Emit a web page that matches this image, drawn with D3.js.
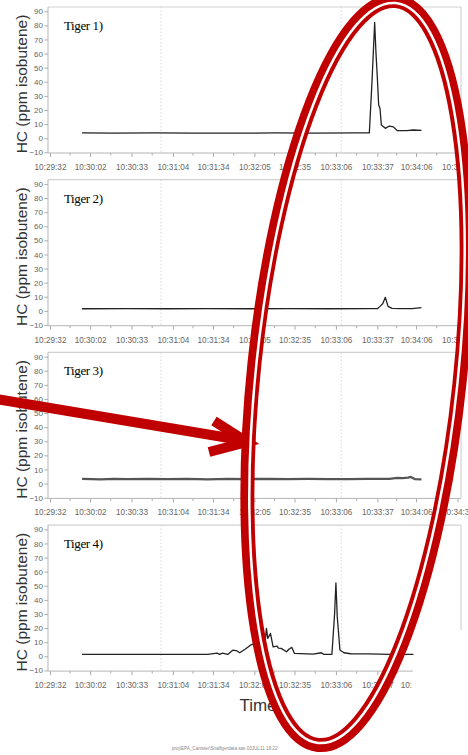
<!DOCTYPE html>
<html><head><meta charset="utf-8">
<script src="https://cdn.jsdelivr.net/npm/d3@7"></script>
<style>body{margin:0;background:#fff;overflow:hidden}svg{display:block}</style>
</head><body>
<svg id="c" width="468" height="755"></svg>
<script>
// ---------- data ----------
const panelNames = ["Tiger 1)", "Tiger 2)", "Tiger 3)", "Tiger 4)"];
const tickLabels = ["10:29:32","10:30:02","10:30:33","10:31:04","10:31:34","10:32:05","10:32:35","10:33:06","10:33:37","10:34:06","10:34:37"];
const yTicks = [-10, 0, 10, 20, 30, 40, 50, 60, 70, 80, 90];
const gridTimes = ["10:30:55", "10:33:10"];
const axisTitleY = "HC (ppm isobutene)";
const axisTitleX = "Time";
const footnote = "proj\\EPA_Canister\\Snaffgerdata.sas 03JUL11 19:22";

const tiger1Times  = ["10:29:56","10:30:20","10:30:50","10:31:20","10:31:50","10:32:20","10:32:50","10:33:20","10:33:31","10:33:33","10:33:35","10:33:36","10:33:37","10:33:38","10:33:39","10:33:40","10:33:43","10:33:46","10:33:49","10:33:52","10:33:59","10:34:04","10:34:10"];
const tiger1Values = [3.7,3.6,3.7,3.6,3.6,3.7,3.6,3.7,3.7,40,82,60,43,23.5,21,9.3,7,8.6,8,5.3,5.3,5.8,5.6];

const tiger2Times  = ["10:29:56","10:30:30","10:31:00","10:31:30","10:32:00","10:32:30","10:33:00","10:33:30","10:33:37","10:33:39","10:33:41","10:33:43","10:33:45","10:33:48","10:33:55","10:34:03","10:34:10"];
const tiger2Values = [1.5,1.6,1.5,1.6,1.5,1.6,1.5,1.6,1.6,3.2,5,9.6,3.2,1.8,1.6,1.6,2.3];

const tiger3Times  = ["10:29:56","10:30:10","10:30:20","10:30:30","10:30:45","10:31:00","10:31:15","10:31:30","10:31:45","10:32:00","10:32:15","10:32:30","10:32:45","10:33:00","10:33:15","10:33:30","10:33:46","10:33:52","10:33:56","10:34:00","10:34:02","10:34:05","10:34:10"];
const tiger3Values = [3.3,3.0,3.4,3.1,3.4,3.2,3.3,3.0,3.3,3.2,3.4,3.1,3.3,3.2,3.1,3.3,3.3,4.0,3.9,4.3,4.7,3.2,3.0];

const tiger4Times  = ["10:29:56","10:30:30","10:31:00","10:31:30","10:31:37","10:31:39","10:31:41","10:31:45","10:31:49","10:31:52","10:31:54","10:31:58","10:32:02","10:32:05","10:32:08","10:32:11","10:32:13","10:32:14","10:32:15","10:32:17","10:32:19","10:32:22","10:32:23","10:32:25","10:32:29","10:32:31","10:32:33","10:32:35","10:32:49","10:32:55","10:32:57","10:33:03","10:33:05","10:33:06","10:33:07","10:33:09","10:33:12","10:33:17","10:33:30","10:33:47","10:34:04"];
const tiger4Values = [1.3,1.3,1.3,1.3,2.3,1.4,2.2,1.3,4.4,3.8,2.5,5,7.9,9,9.1,8,10,19.8,12.7,16.2,6.7,7.2,5.8,5.6,3.2,5.2,6.3,2,1.5,2.5,1.4,1.4,30,52,28,4.4,2.5,1.8,1.7,1.4,1.4];

const seriesTimes  = [tiger1Times, tiger2Times, tiger3Times, tiger4Times];
const seriesValues = [tiger1Values, tiger2Values, tiger3Values, tiger4Values];

// ---------- layout ----------
const parse = d3.timeParse("%H:%M:%S");
const fmt = d3.timeFormat("%H:%M:%S");
const svg = d3.select("#c");
const frameL = 48, frameR = 461, frameT = 7, frameB = 153;
const panelTops = [0, 172.7, 345.4, 518.1];

const x = d3.scaleTime()
  .domain([parse(tickLabels[0]), parse(tickLabels[tickLabels.length - 1])])
  .range([50, 457.5]);
const y = d3.scaleLinear().domain([-10.5, 93]).range([frameB, frameT]);

const tickDates = tickLabels.map(parse);
const minorDates = d3.pairs(tickDates).map(([a, b]) => new Date((+a + +b) / 2));

svg.append("defs").append("clipPath").attr("id", "clip4")
  .append("rect").attr("x", 0).attr("y", -20).attr("width", 411.5).attr("height", 200);

panelNames.forEach((name, i) => {
  const last = i === 3;
  const g = svg.append("g").attr("transform", `translate(0,${panelTops[i]})`);

  g.append("line").attr("x1", frameL).attr("x2", frameR).attr("y1", frameT).attr("y2", frameT)
    .attr("stroke", "#d2d2d2").attr("stroke-width", 1.2);
  g.append("line").attr("x1", frameR).attr("x2", frameR).attr("y1", frameT).attr("y2", last ? 112 : frameB)
    .attr("stroke", "#d2d2d2").attr("stroke-width", 1.2);

  g.selectAll(".grid").data(gridTimes).join("line")
    .attr("x1", d => x(parse(d))).attr("x2", d => x(parse(d)))
    .attr("y1", frameT).attr("y2", frameB)
    .attr("stroke", "#cfcfcf").attr("stroke-width", 0.8).attr("stroke-dasharray", "1.5,2");

  const ya = g.append("g").attr("transform", `translate(${frameL},0)`)
    .call(d3.axisLeft(y).tickValues(yTicks).tickSize(3.5).tickSizeOuter(0).tickPadding(1.5));
  ya.select(".domain").remove();
  ya.selectAll("line").attr("stroke", "#aaa");
  ya.selectAll("text").attr("font-family", "Liberation Sans, Arial, sans-serif")
    .attr("font-size", 8).attr("fill", "#666");
  g.append("line").attr("x1", frameL).attr("x2", frameL).attr("y1", frameT).attr("y2", frameB)
    .attr("stroke", "#b5b5b5").attr("stroke-width", 1);

  const xg = g.append("g").attr("transform", `translate(0,${frameB})`);
  if (last) xg.attr("clip-path", "url(#clip4)");
  const xa = xg.append("g")
    .call(d3.axisBottom(x).tickValues(tickDates).tickFormat(fmt).tickSize(4).tickSizeOuter(0).tickPadding(7));
  xa.select(".domain").remove();
  xa.selectAll("line").attr("stroke", "#aaa");
  xa.selectAll("text").attr("font-family", "Liberation Sans, Arial, sans-serif")
    .attr("font-size", 8.2).attr("fill", "#666");
  xg.selectAll(".minor").data(minorDates).join("line")
    .attr("x1", d => x(d)).attr("x2", d => x(d)).attr("y1", 0).attr("y2", 2.5)
    .attr("stroke", "#aaa");
  g.append("line").attr("x1", frameL).attr("x2", last ? 413 : frameR).attr("y1", frameB).attr("y2", frameB)
    .attr("stroke", "#b5b5b5").attr("stroke-width", 1);

  const pts = seriesTimes[i].map((t, k) => [parse(t), seriesValues[i][k]]);
  g.append("path").datum(pts)
    .attr("d", d3.line().x(d => x(d[0])).y(d => y(d[1])))
    .attr("fill", "none")
    .attr("stroke", i === 2 ? "#555" : "#222")
    .attr("stroke-width", i === 2 ? 2.3 : 1.3)
    .attr("stroke-linejoin", "round");

  g.append("text").attr("x", 64).attr("y", 30).text(name)
    .attr("font-family", "Liberation Serif, Times New Roman, serif")
    .attr("font-size", 13).attr("letter-spacing", -0.4).attr("fill", "#000");

  g.append("text").text(axisTitleY)
    .attr("transform", `translate(27,${(frameT + frameB) / 2 + 4}) rotate(-90)`)
    .attr("text-anchor", "middle")
    .attr("font-family", "Liberation Sans, Arial, sans-serif")
    .attr("font-size", 15.5).attr("fill", "#333");
});

svg.append("text").attr("x", 258).attr("y", 711).attr("text-anchor", "middle").text(axisTitleX)
  .attr("font-family", "Liberation Sans, Arial, sans-serif").attr("font-size", 17).attr("fill", "#333");

svg.append("text").attr("x", 172).attr("y", 750).text(footnote)
  .attr("font-family", "Liberation Sans, Arial, sans-serif").attr("font-size", 4.6).attr("fill", "#888");

// ---------- red annotations ----------
const red = "#c00000";
const ann = svg.append("g");
ann.append("line").attr("x1", -4).attr("y1", 399).attr("x2", 244).attr("y2", 440.5)
  .attr("stroke", red).attr("stroke-width", 10);
ann.append("path").attr("d", "M214,421 L247,442 L209,452")
  .attr("fill", "none").attr("stroke", red).attr("stroke-width", 10)
  .attr("stroke-linejoin", "miter").attr("stroke-linecap", "butt");

const el = ann.append("g").attr("transform", "translate(357,373) rotate(6)");
el.append("ellipse").attr("rx", 103).attr("ry", 374)
  .attr("fill", "none").attr("stroke", red).attr("stroke-width", 14);
el.append("ellipse").attr("rx", 101).attr("ry", 372)
  .attr("fill", "none").attr("stroke", "#fff").attr("stroke-width", 2.5);
</script>
</body></html>
